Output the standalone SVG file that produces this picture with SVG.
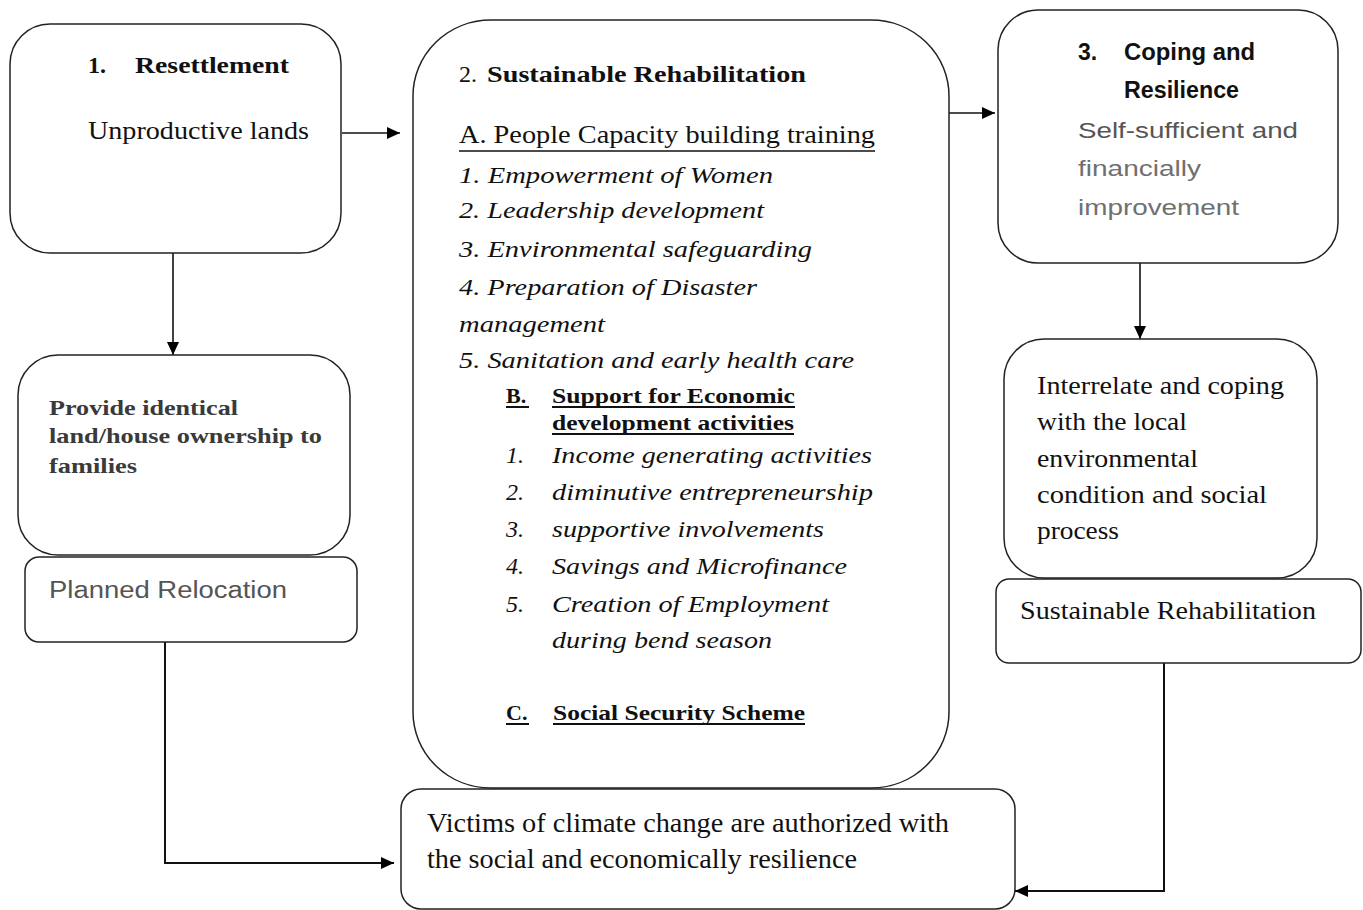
<svg xmlns="http://www.w3.org/2000/svg" width="1363" height="910" viewBox="0 0 1363 910">
<defs>
<marker id="ah" markerUnits="userSpaceOnUse" markerWidth="14" markerHeight="12" refX="13" refY="6" orient="auto">
<path d="M0,0 L13,6 L0,12 z" fill="#000"/>
</marker>
<style>
.box{fill:#fff;stroke:#222;stroke-width:1.5}
.con{fill:none;stroke:#111;stroke-width:1.6}
.ser{font-family:"Liberation Serif","Times New Roman",serif;fill:#111}
.it{font-family:"Liberation Serif","Times New Roman",serif;font-style:italic;fill:#111;font-size:24px}
.b{font-weight:bold}
.sans{font-family:"Liberation Sans",Arial,sans-serif}
.ul{stroke:#111;stroke-width:1.4}
.ulb{stroke:#111;stroke-width:2}
</style>
</defs>
<rect width="1363" height="910" fill="#fff"/>

<g id="connectors">
<line class="con" x1="342" y1="133" x2="400" y2="133" marker-end="url(#ah)"/>
<line class="con" x1="949" y1="113" x2="995" y2="113" marker-end="url(#ah)"/>
<line class="con" x1="173" y1="253" x2="173" y2="355" marker-end="url(#ah)"/>
<line class="con" x1="1140" y1="263" x2="1140" y2="339" marker-end="url(#ah)"/>
<polyline class="con" points="165,642 165,863 394,863" marker-end="url(#ah)" style="stroke-width:2"/>
<polyline class="con" points="1164,663 1164,891 1015,891" marker-end="url(#ah)" style="stroke-width:2"/>
</g>

<g id="node-resettlement">
<rect class="box" x="10" y="24" width="331" height="229" rx="40"/>
<text class="ser b" x="88" y="73" font-size="24">1.</text>
<text class="ser b" x="135" y="73" font-size="24" textLength="154" lengthAdjust="spacingAndGlyphs">Resettlement</text>
<text class="ser" x="88" y="139" font-size="25" textLength="221" lengthAdjust="spacingAndGlyphs">Unproductive lands</text>
</g>

<g id="node-provide">
<rect class="box" x="18" y="355" width="332" height="200" rx="40"/>
<text class="ser b" x="49" y="415" font-size="21" fill="#3a3a3a" style="fill:#3a3a3a" textLength="189" lengthAdjust="spacingAndGlyphs">Provide identical</text>
<text class="ser b" x="49" y="443" font-size="21" style="fill:#3a3a3a" textLength="273" lengthAdjust="spacingAndGlyphs">land/house ownership to</text>
<text class="ser b" x="49" y="473" font-size="21" style="fill:#3a3a3a" textLength="88" lengthAdjust="spacingAndGlyphs">families</text>
</g>

<g id="node-planned">
<rect class="box" x="25" y="557" width="332" height="85" rx="14"/>
<text class="sans" x="49" y="598" font-size="23" fill="#555" textLength="238" lengthAdjust="spacingAndGlyphs">Planned Relocation</text>
</g>

<g id="node-rehab">
<rect class="box" x="413" y="20" width="536" height="768" rx="78" ry="76"/>
<text class="ser" x="459" y="82" font-size="24">2.</text>
<text class="ser b" x="487" y="82" font-size="24" textLength="319" lengthAdjust="spacingAndGlyphs">Sustainable Rehabilitation</text>
<text class="ser" x="459" y="143" font-size="25" textLength="416" lengthAdjust="spacingAndGlyphs">A. People Capacity building training</text>
<line class="ul" x1="459" y1="151" x2="875" y2="151"/>
<text class="it" x="459" y="183" textLength="314" lengthAdjust="spacingAndGlyphs">1. Empowerment of Women</text>
<text class="it" x="459" y="218" textLength="305" lengthAdjust="spacingAndGlyphs">2. Leadership development</text>
<text class="it" x="459" y="257" textLength="353" lengthAdjust="spacingAndGlyphs">3. Environmental safeguarding</text>
<text class="it" x="459" y="295" textLength="298" lengthAdjust="spacingAndGlyphs">4. Preparation of Disaster</text>
<text class="it" x="459" y="332" textLength="146" lengthAdjust="spacingAndGlyphs">management</text>
<text class="it" x="459" y="368" textLength="395" lengthAdjust="spacingAndGlyphs">5. Sanitation and early health care</text>

<text class="ser b" x="506" y="403" font-size="22">B.</text>
<line class="ulb" x1="506" y1="407" x2="529" y2="407"/>
<text class="ser b" x="552" y="403" font-size="22" textLength="243" lengthAdjust="spacingAndGlyphs">Support for Economic</text>
<line class="ulb" x1="552" y1="407" x2="795" y2="407"/>
<text class="ser b" x="552" y="430" font-size="22" textLength="242" lengthAdjust="spacingAndGlyphs">development activities</text>
<line class="ulb" x1="552" y1="434" x2="794" y2="434"/>

<text class="it" x="506" y="463">1.</text>
<text class="it" x="552" y="463" textLength="320" lengthAdjust="spacingAndGlyphs">Income  generating activities</text>
<text class="it" x="506" y="500">2.</text>
<text class="it" x="552" y="500" textLength="321" lengthAdjust="spacingAndGlyphs">diminutive entrepreneurship</text>
<text class="it" x="506" y="537">3.</text>
<text class="it" x="552" y="537" textLength="272" lengthAdjust="spacingAndGlyphs">supportive involvements</text>
<text class="it" x="506" y="574">4.</text>
<text class="it" x="552" y="574" textLength="295" lengthAdjust="spacingAndGlyphs">Savings and Microfinance</text>
<text class="it" x="506" y="612">5.</text>
<text class="it" x="552" y="612" textLength="277" lengthAdjust="spacingAndGlyphs">Creation of Employment</text>
<text class="it" x="552" y="648" textLength="220" lengthAdjust="spacingAndGlyphs">during bend season</text>

<text class="ser b" x="506" y="720" font-size="22">C.</text>
<line class="ulb" x1="506" y1="724" x2="529" y2="724"/>
<text class="ser b" x="553" y="720" font-size="22" textLength="252" lengthAdjust="spacingAndGlyphs">Social Security Scheme</text>
<line class="ulb" x1="553" y1="724" x2="805" y2="724"/>
</g>

<g id="node-coping">
<rect class="box" x="998" y="10" width="340" height="253" rx="40"/>
<text class="sans b" x="1078" y="60" font-size="23" fill="#111">3.</text>
<text class="sans b" x="1124" y="60" font-size="23" fill="#111" textLength="131" lengthAdjust="spacingAndGlyphs">Coping and</text>
<text class="sans b" x="1124" y="98" font-size="23" fill="#111" textLength="115" lengthAdjust="spacingAndGlyphs">Resilience</text>
<text class="sans" x="1078" y="138" font-size="22" fill="#555" textLength="220" lengthAdjust="spacingAndGlyphs">Self-sufficient and</text>
<text class="sans" x="1078" y="176" font-size="22" fill="#707070" textLength="123" lengthAdjust="spacingAndGlyphs">financially</text>
<text class="sans" x="1078" y="215" font-size="22" fill="#707070" textLength="161" lengthAdjust="spacingAndGlyphs">improvement</text>
</g>

<g id="node-interrelate">
<rect class="box" x="1004" y="339" width="313" height="239" rx="40"/>
<text class="ser" x="1037" y="394" font-size="26" textLength="247" lengthAdjust="spacingAndGlyphs">Interrelate and coping</text>
<text class="ser" x="1037" y="430" font-size="26" textLength="150" lengthAdjust="spacingAndGlyphs">with the local</text>
<text class="ser" x="1037" y="467" font-size="26" textLength="161" lengthAdjust="spacingAndGlyphs">environmental</text>
<text class="ser" x="1037" y="503" font-size="26" textLength="230" lengthAdjust="spacingAndGlyphs">condition and  social</text>
<text class="ser" x="1037" y="539" font-size="26" textLength="82" lengthAdjust="spacingAndGlyphs">process</text>
</g>

<g id="node-sustainable">
<rect class="box" x="996" y="579" width="365" height="84" rx="13"/>
<text class="ser" x="1020" y="619" font-size="26" textLength="296" lengthAdjust="spacingAndGlyphs">Sustainable Rehabilitation</text>
</g>

<g id="node-victims">
<rect class="box" x="401" y="789" width="614" height="120" rx="20"/>
<text class="ser" x="427" y="832" font-size="27" textLength="522" lengthAdjust="spacingAndGlyphs">Victims of climate change are authorized with</text>
<text class="ser" x="427" y="868" font-size="27" textLength="430" lengthAdjust="spacingAndGlyphs">the social and economically resilience</text>
</g>
</svg>
